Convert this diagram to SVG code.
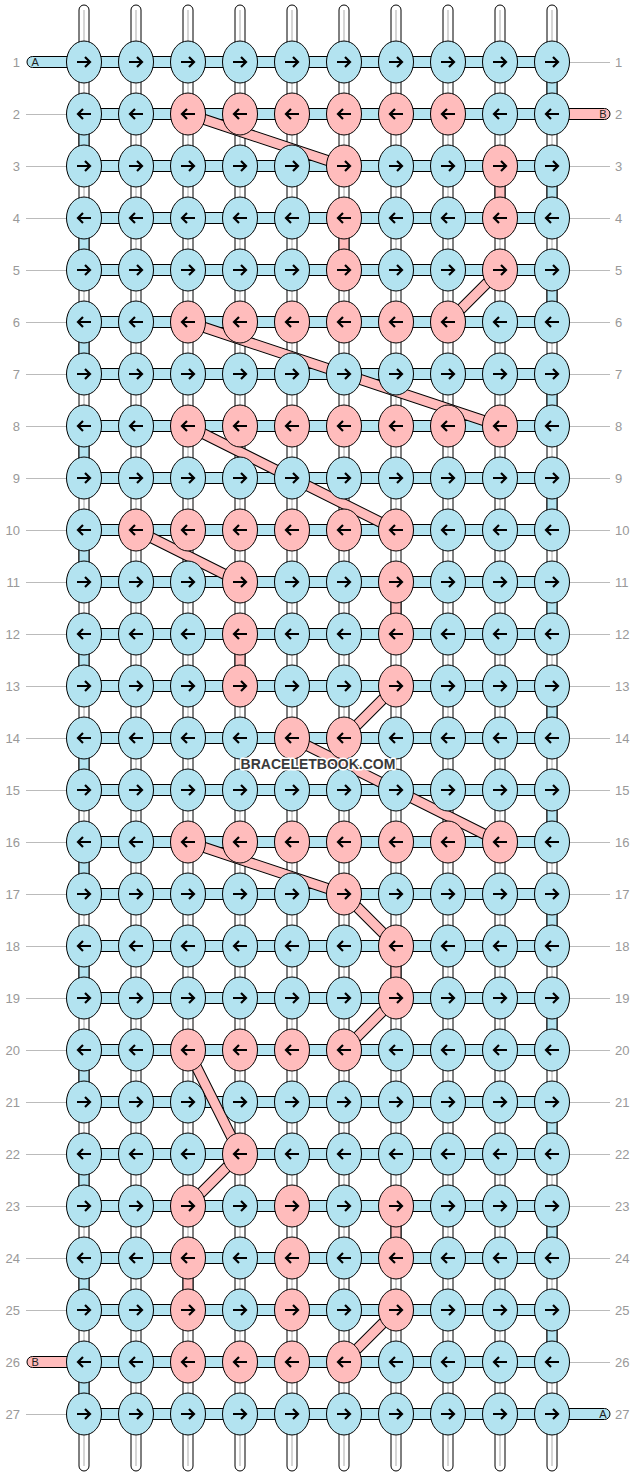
<svg xmlns="http://www.w3.org/2000/svg" xmlns:xlink="http://www.w3.org/1999/xlink" width="636" height="1476" viewBox="0 0 636 1476">
<style>
.kb{fill:#b3e3f0;stroke:#000;stroke-width:1}
.kp{fill:#ffbcbc;stroke:#000;stroke-width:1}
.ar{fill:none;stroke:#000;stroke-width:2.2}
.warp{fill:#fff;stroke:#000;stroke-width:1}
.wl{stroke:#c8c8c8;stroke-width:1.5}
.vb{fill:#b3e3f0;stroke:#000;stroke-width:1}
.vp{fill:#ffbcbc;stroke:#000;stroke-width:1}
.hb{fill:#b3e3f0;stroke:#000;stroke-width:1}
.dO{stroke:#000;stroke-width:11}
.dI{stroke:#ffbcbc;stroke-width:9}
.ll{stroke:#bbb;stroke-width:1}
.lab{font-family:"Liberation Sans",Arial,sans-serif;font-size:13px;fill:#999}
.sl{font-family:"Liberation Sans",Arial,sans-serif;font-size:11px;fill:#222}
.wm{font-family:"Liberation Sans",Arial,sans-serif;font-size:14px;font-weight:bold;fill:#3a3a3a;stroke:#fff;stroke-width:3;paint-order:stroke;stroke-linejoin:round}
</style>
<defs>
<g id="bR"><ellipse class="kb" rx="17.5" ry="21"/><path class="ar" d="M-7,0H6M1,-5L6,0L1,5"/></g>
<g id="bL"><ellipse class="kb" rx="17.5" ry="21"/><path class="ar" d="M7,0H-6M-1,-5L-6,0L-1,5"/></g>
<g id="pR"><ellipse class="kp" rx="17.5" ry="21"/><path class="ar" d="M-7,0H6M1,-5L6,0L1,5"/></g>
<g id="pL"><ellipse class="kp" rx="17.5" ry="21"/><path class="ar" d="M7,0H-6M-1,-5L-6,0L-1,5"/></g>
<g id="warpS"><rect class="warp" x="-5" y="5" width="10" height="1466" rx="5"/><line class="wl" x1="0" y1="10" x2="0" y2="1466"/></g>
</defs>
<g id="labels">
<text class="lab" x="20" y="66.5" text-anchor="end">1</text><text class="lab" x="20" y="118.5" text-anchor="end">2</text><text class="lab" x="20" y="170.5" text-anchor="end">3</text><text class="lab" x="20" y="222.5" text-anchor="end">4</text><text class="lab" x="20" y="274.5" text-anchor="end">5</text><text class="lab" x="20" y="326.5" text-anchor="end">6</text><text class="lab" x="20" y="378.5" text-anchor="end">7</text><text class="lab" x="20" y="430.5" text-anchor="end">8</text><text class="lab" x="20" y="482.5" text-anchor="end">9</text><text class="lab" x="20" y="534.5" text-anchor="end">10</text><text class="lab" x="20" y="586.5" text-anchor="end">11</text><text class="lab" x="20" y="638.5" text-anchor="end">12</text><text class="lab" x="20" y="690.5" text-anchor="end">13</text><text class="lab" x="20" y="742.5" text-anchor="end">14</text><text class="lab" x="20" y="794.5" text-anchor="end">15</text><text class="lab" x="20" y="846.5" text-anchor="end">16</text><text class="lab" x="20" y="898.5" text-anchor="end">17</text><text class="lab" x="20" y="950.5" text-anchor="end">18</text><text class="lab" x="20" y="1002.5" text-anchor="end">19</text><text class="lab" x="20" y="1054.5" text-anchor="end">20</text><text class="lab" x="20" y="1106.5" text-anchor="end">21</text><text class="lab" x="20" y="1158.5" text-anchor="end">22</text><text class="lab" x="20" y="1210.5" text-anchor="end">23</text><text class="lab" x="20" y="1262.5" text-anchor="end">24</text><text class="lab" x="20" y="1314.5" text-anchor="end">25</text><text class="lab" x="20" y="1366.5" text-anchor="end">26</text><text class="lab" x="20" y="1418.5" text-anchor="end">27</text>
<text class="lab" x="615" y="66.5">1</text><text class="lab" x="615" y="118.5">2</text><text class="lab" x="615" y="170.5">3</text><text class="lab" x="615" y="222.5">4</text><text class="lab" x="615" y="274.5">5</text><text class="lab" x="615" y="326.5">6</text><text class="lab" x="615" y="378.5">7</text><text class="lab" x="615" y="430.5">8</text><text class="lab" x="615" y="482.5">9</text><text class="lab" x="615" y="534.5">10</text><text class="lab" x="615" y="586.5">11</text><text class="lab" x="615" y="638.5">12</text><text class="lab" x="615" y="690.5">13</text><text class="lab" x="615" y="742.5">14</text><text class="lab" x="615" y="794.5">15</text><text class="lab" x="615" y="846.5">16</text><text class="lab" x="615" y="898.5">17</text><text class="lab" x="615" y="950.5">18</text><text class="lab" x="615" y="1002.5">19</text><text class="lab" x="615" y="1054.5">20</text><text class="lab" x="615" y="1106.5">21</text><text class="lab" x="615" y="1158.5">22</text><text class="lab" x="615" y="1210.5">23</text><text class="lab" x="615" y="1262.5">24</text><text class="lab" x="615" y="1314.5">25</text><text class="lab" x="615" y="1366.5">26</text><text class="lab" x="615" y="1418.5">27</text>
</g>
<g id="connectors">
<g id="labelLines">
<path class="ll" d="M26,114.5H66M26,166.5H66M26,218.5H66M26,270.5H66M26,322.5H66M26,374.5H66M26,426.5H66M26,478.5H66M26,530.5H66M26,582.5H66M26,634.5H66M26,686.5H66M26,738.5H66M26,790.5H66M26,842.5H66M26,894.5H66M26,946.5H66M26,998.5H66M26,1050.5H66M26,1102.5H66M26,1154.5H66M26,1206.5H66M26,1258.5H66M26,1310.5H66M26,1414.5H66"/>
<path class="ll" d="M570,62.5H610M570,166.5H610M570,218.5H610M570,270.5H610M570,322.5H610M570,374.5H610M570,426.5H610M570,478.5H610M570,530.5H610M570,582.5H610M570,634.5H610M570,686.5H610M570,738.5H610M570,790.5H610M570,842.5H610M570,894.5H610M570,946.5H610M570,998.5H610M570,1050.5H610M570,1102.5H610M570,1154.5H610M570,1206.5H610M570,1258.5H610M570,1310.5H610M570,1362.5H610"/>
</g>
<g id="warps">
<use href="#warpS" x="84"/><use href="#warpS" x="136"/><use href="#warpS" x="188"/><use href="#warpS" x="240"/><use href="#warpS" x="292"/><use href="#warpS" x="344"/><use href="#warpS" x="396"/><use href="#warpS" x="448"/><use href="#warpS" x="500"/><use href="#warpS" x="552"/>
</g>
<g id="turnsA">
<rect class="vb" x="547" y="62" width="10" height="52"/><rect class="vb" x="547" y="166" width="10" height="52"/><rect class="vb" x="547" y="270" width="10" height="52"/><rect class="vb" x="547" y="374" width="10" height="52"/><rect class="vb" x="547" y="478" width="10" height="52"/><rect class="vb" x="547" y="582" width="10" height="52"/><rect class="vb" x="547" y="686" width="10" height="52"/><rect class="vb" x="547" y="790" width="10" height="52"/><rect class="vb" x="547" y="894" width="10" height="52"/><rect class="vb" x="547" y="998" width="10" height="52"/><rect class="vb" x="547" y="1102" width="10" height="52"/><rect class="vb" x="547" y="1206" width="10" height="52"/><rect class="vb" x="547" y="1310" width="10" height="52"/>
<rect class="vb" x="79" y="114" width="10" height="52"/><rect class="vb" x="79" y="218" width="10" height="52"/><rect class="vb" x="79" y="322" width="10" height="52"/><rect class="vb" x="79" y="426" width="10" height="52"/><rect class="vb" x="79" y="530" width="10" height="52"/><rect class="vb" x="79" y="634" width="10" height="52"/><rect class="vb" x="79" y="738" width="10" height="52"/><rect class="vb" x="79" y="842" width="10" height="52"/><rect class="vb" x="79" y="946" width="10" height="52"/><rect class="vb" x="79" y="1050" width="10" height="52"/><rect class="vb" x="79" y="1154" width="10" height="52"/><rect class="vb" x="79" y="1258" width="10" height="52"/><rect class="vb" x="79" y="1362" width="10" height="52"/>
</g>
<g id="verticalB">
<rect class="vp" x="495" y="166" width="10" height="52"/><rect class="vp" x="339" y="218" width="10" height="52"/><rect class="vp" x="391" y="582" width="10" height="52"/><rect class="vp" x="235" y="634" width="10" height="52"/><rect class="vp" x="391" y="946" width="10" height="52"/><rect class="vp" x="391" y="1206" width="10" height="52"/><rect class="vp" x="183" y="1258" width="10" height="52"/>
</g>
<g id="rows">
<rect class="hb" x="84" y="56.5" width="468" height="11"/><rect class="hb" x="84" y="108.5" width="468" height="11"/><rect class="hb" x="84" y="160.5" width="468" height="11"/><rect class="hb" x="84" y="212.5" width="468" height="11"/><rect class="hb" x="84" y="264.5" width="468" height="11"/><rect class="hb" x="84" y="316.5" width="468" height="11"/><rect class="hb" x="84" y="368.5" width="468" height="11"/><rect class="hb" x="84" y="420.5" width="468" height="11"/><rect class="hb" x="84" y="472.5" width="468" height="11"/><rect class="hb" x="84" y="524.5" width="468" height="11"/><rect class="hb" x="84" y="576.5" width="468" height="11"/><rect class="hb" x="84" y="628.5" width="468" height="11"/><rect class="hb" x="84" y="680.5" width="468" height="11"/><rect class="hb" x="84" y="732.5" width="468" height="11"/><rect class="hb" x="84" y="784.5" width="468" height="11"/><rect class="hb" x="84" y="836.5" width="468" height="11"/><rect class="hb" x="84" y="888.5" width="468" height="11"/><rect class="hb" x="84" y="940.5" width="468" height="11"/><rect class="hb" x="84" y="992.5" width="468" height="11"/><rect class="hb" x="84" y="1044.5" width="468" height="11"/><rect class="hb" x="84" y="1096.5" width="468" height="11"/><rect class="hb" x="84" y="1148.5" width="468" height="11"/><rect class="hb" x="84" y="1200.5" width="468" height="11"/><rect class="hb" x="84" y="1252.5" width="468" height="11"/><rect class="hb" x="84" y="1304.5" width="468" height="11"/><rect class="hb" x="84" y="1356.5" width="468" height="11"/><rect class="hb" x="84" y="1408.5" width="468" height="11"/>
</g>
<g id="stubs">
<path class="hb" d="M84,56.5H32.5A5.5,5.5 0 0 0 32.5,67.5H84Z"/><text class="sl" x="31.5" y="66">A</text>
<path class="vp" d="M552,108.5H604.5A5.5,5.5 0 0 1 604.5,119.5H552Z"/><text class="sl" x="606.5" y="118" text-anchor="end">B</text>
<path class="vp" d="M84,1356.5H32.5A5.5,5.5 0 0 0 32.5,1367.5H84Z"/><text class="sl" x="31.5" y="1366">B</text>
<path class="hb" d="M552,1408.5H604.5A5.5,5.5 0 0 1 604.5,1419.5H552Z"/><text class="sl" x="606.5" y="1418" text-anchor="end">A</text>
</g>
<g id="diagonalsB">
<path class="dO" d="M188,114L344,166M500,270L448,322M188,322L500,426M188,426L396,530M136,530L240,582M396,686L344,738M292,738L500,842M188,842L344,894M344,894L396,946M396,998L344,1050M188,1050L240,1154M240,1154L188,1206M396,1310L344,1362"/>
<path class="dI" d="M188,114L344,166M500,270L448,322M188,322L500,426M188,426L396,530M136,530L240,582M396,686L344,738M292,738L500,842M188,842L344,894M344,894L396,946M396,998L344,1050M188,1050L240,1154M240,1154L188,1206M396,1310L344,1362"/>
</g>
</g>
<g id="knots">
<g id="k1_1"><use href="#bR" x="84" y="62"/></g><g id="k1_2"><use href="#bR" x="136" y="62"/></g><g id="k1_3"><use href="#bR" x="188" y="62"/></g><g id="k1_4"><use href="#bR" x="240" y="62"/></g><g id="k1_5"><use href="#bR" x="292" y="62"/></g><g id="k1_6"><use href="#bR" x="344" y="62"/></g><g id="k1_7"><use href="#bR" x="396" y="62"/></g><g id="k1_8"><use href="#bR" x="448" y="62"/></g><g id="k1_9"><use href="#bR" x="500" y="62"/></g><g id="k1_10"><use href="#bR" x="552" y="62"/></g>
<g id="k2_1"><use href="#bL" x="84" y="114"/></g><g id="k2_2"><use href="#bL" x="136" y="114"/></g><g id="k2_3"><use href="#pL" x="188" y="114"/></g><g id="k2_4"><use href="#pL" x="240" y="114"/></g><g id="k2_5"><use href="#pL" x="292" y="114"/></g><g id="k2_6"><use href="#pL" x="344" y="114"/></g><g id="k2_7"><use href="#pL" x="396" y="114"/></g><g id="k2_8"><use href="#pL" x="448" y="114"/></g><g id="k2_9"><use href="#bL" x="500" y="114"/></g><g id="k2_10"><use href="#bL" x="552" y="114"/></g>
<g id="k3_1"><use href="#bR" x="84" y="166"/></g><g id="k3_2"><use href="#bR" x="136" y="166"/></g><g id="k3_3"><use href="#bR" x="188" y="166"/></g><g id="k3_4"><use href="#bR" x="240" y="166"/></g><g id="k3_5"><use href="#bR" x="292" y="166"/></g><g id="k3_6"><use href="#pR" x="344" y="166"/></g><g id="k3_7"><use href="#bR" x="396" y="166"/></g><g id="k3_8"><use href="#bR" x="448" y="166"/></g><g id="k3_9"><use href="#pR" x="500" y="166"/></g><g id="k3_10"><use href="#bR" x="552" y="166"/></g>
<g id="k4_1"><use href="#bL" x="84" y="218"/></g><g id="k4_2"><use href="#bL" x="136" y="218"/></g><g id="k4_3"><use href="#bL" x="188" y="218"/></g><g id="k4_4"><use href="#bL" x="240" y="218"/></g><g id="k4_5"><use href="#bL" x="292" y="218"/></g><g id="k4_6"><use href="#pL" x="344" y="218"/></g><g id="k4_7"><use href="#bL" x="396" y="218"/></g><g id="k4_8"><use href="#bL" x="448" y="218"/></g><g id="k4_9"><use href="#pL" x="500" y="218"/></g><g id="k4_10"><use href="#bL" x="552" y="218"/></g>
<g id="k5_1"><use href="#bR" x="84" y="270"/></g><g id="k5_2"><use href="#bR" x="136" y="270"/></g><g id="k5_3"><use href="#bR" x="188" y="270"/></g><g id="k5_4"><use href="#bR" x="240" y="270"/></g><g id="k5_5"><use href="#bR" x="292" y="270"/></g><g id="k5_6"><use href="#pR" x="344" y="270"/></g><g id="k5_7"><use href="#bR" x="396" y="270"/></g><g id="k5_8"><use href="#bR" x="448" y="270"/></g><g id="k5_9"><use href="#pR" x="500" y="270"/></g><g id="k5_10"><use href="#bR" x="552" y="270"/></g>
<g id="k6_1"><use href="#bL" x="84" y="322"/></g><g id="k6_2"><use href="#bL" x="136" y="322"/></g><g id="k6_3"><use href="#pL" x="188" y="322"/></g><g id="k6_4"><use href="#pL" x="240" y="322"/></g><g id="k6_5"><use href="#pL" x="292" y="322"/></g><g id="k6_6"><use href="#pL" x="344" y="322"/></g><g id="k6_7"><use href="#pL" x="396" y="322"/></g><g id="k6_8"><use href="#pL" x="448" y="322"/></g><g id="k6_9"><use href="#bL" x="500" y="322"/></g><g id="k6_10"><use href="#bL" x="552" y="322"/></g>
<g id="k7_1"><use href="#bR" x="84" y="374"/></g><g id="k7_2"><use href="#bR" x="136" y="374"/></g><g id="k7_3"><use href="#bR" x="188" y="374"/></g><g id="k7_4"><use href="#bR" x="240" y="374"/></g><g id="k7_5"><use href="#bR" x="292" y="374"/></g><g id="k7_6"><use href="#bR" x="344" y="374"/></g><g id="k7_7"><use href="#bR" x="396" y="374"/></g><g id="k7_8"><use href="#bR" x="448" y="374"/></g><g id="k7_9"><use href="#bR" x="500" y="374"/></g><g id="k7_10"><use href="#bR" x="552" y="374"/></g>
<g id="k8_1"><use href="#bL" x="84" y="426"/></g><g id="k8_2"><use href="#bL" x="136" y="426"/></g><g id="k8_3"><use href="#pL" x="188" y="426"/></g><g id="k8_4"><use href="#pL" x="240" y="426"/></g><g id="k8_5"><use href="#pL" x="292" y="426"/></g><g id="k8_6"><use href="#pL" x="344" y="426"/></g><g id="k8_7"><use href="#pL" x="396" y="426"/></g><g id="k8_8"><use href="#pL" x="448" y="426"/></g><g id="k8_9"><use href="#pL" x="500" y="426"/></g><g id="k8_10"><use href="#bL" x="552" y="426"/></g>
<g id="k9_1"><use href="#bR" x="84" y="478"/></g><g id="k9_2"><use href="#bR" x="136" y="478"/></g><g id="k9_3"><use href="#bR" x="188" y="478"/></g><g id="k9_4"><use href="#bR" x="240" y="478"/></g><g id="k9_5"><use href="#bR" x="292" y="478"/></g><g id="k9_6"><use href="#bR" x="344" y="478"/></g><g id="k9_7"><use href="#bR" x="396" y="478"/></g><g id="k9_8"><use href="#bR" x="448" y="478"/></g><g id="k9_9"><use href="#bR" x="500" y="478"/></g><g id="k9_10"><use href="#bR" x="552" y="478"/></g>
<g id="k10_1"><use href="#bL" x="84" y="530"/></g><g id="k10_2"><use href="#pL" x="136" y="530"/></g><g id="k10_3"><use href="#pL" x="188" y="530"/></g><g id="k10_4"><use href="#pL" x="240" y="530"/></g><g id="k10_5"><use href="#pL" x="292" y="530"/></g><g id="k10_6"><use href="#pL" x="344" y="530"/></g><g id="k10_7"><use href="#pL" x="396" y="530"/></g><g id="k10_8"><use href="#bL" x="448" y="530"/></g><g id="k10_9"><use href="#bL" x="500" y="530"/></g><g id="k10_10"><use href="#bL" x="552" y="530"/></g>
<g id="k11_1"><use href="#bR" x="84" y="582"/></g><g id="k11_2"><use href="#bR" x="136" y="582"/></g><g id="k11_3"><use href="#bR" x="188" y="582"/></g><g id="k11_4"><use href="#pR" x="240" y="582"/></g><g id="k11_5"><use href="#bR" x="292" y="582"/></g><g id="k11_6"><use href="#bR" x="344" y="582"/></g><g id="k11_7"><use href="#pR" x="396" y="582"/></g><g id="k11_8"><use href="#bR" x="448" y="582"/></g><g id="k11_9"><use href="#bR" x="500" y="582"/></g><g id="k11_10"><use href="#bR" x="552" y="582"/></g>
<g id="k12_1"><use href="#bL" x="84" y="634"/></g><g id="k12_2"><use href="#bL" x="136" y="634"/></g><g id="k12_3"><use href="#bL" x="188" y="634"/></g><g id="k12_4"><use href="#pL" x="240" y="634"/></g><g id="k12_5"><use href="#bL" x="292" y="634"/></g><g id="k12_6"><use href="#bL" x="344" y="634"/></g><g id="k12_7"><use href="#pL" x="396" y="634"/></g><g id="k12_8"><use href="#bL" x="448" y="634"/></g><g id="k12_9"><use href="#bL" x="500" y="634"/></g><g id="k12_10"><use href="#bL" x="552" y="634"/></g>
<g id="k13_1"><use href="#bR" x="84" y="686"/></g><g id="k13_2"><use href="#bR" x="136" y="686"/></g><g id="k13_3"><use href="#bR" x="188" y="686"/></g><g id="k13_4"><use href="#pR" x="240" y="686"/></g><g id="k13_5"><use href="#bR" x="292" y="686"/></g><g id="k13_6"><use href="#bR" x="344" y="686"/></g><g id="k13_7"><use href="#pR" x="396" y="686"/></g><g id="k13_8"><use href="#bR" x="448" y="686"/></g><g id="k13_9"><use href="#bR" x="500" y="686"/></g><g id="k13_10"><use href="#bR" x="552" y="686"/></g>
<g id="k14_1"><use href="#bL" x="84" y="738"/></g><g id="k14_2"><use href="#bL" x="136" y="738"/></g><g id="k14_3"><use href="#bL" x="188" y="738"/></g><g id="k14_4"><use href="#bL" x="240" y="738"/></g><g id="k14_5"><use href="#pL" x="292" y="738"/></g><g id="k14_6"><use href="#pL" x="344" y="738"/></g><g id="k14_7"><use href="#bL" x="396" y="738"/></g><g id="k14_8"><use href="#bL" x="448" y="738"/></g><g id="k14_9"><use href="#bL" x="500" y="738"/></g><g id="k14_10"><use href="#bL" x="552" y="738"/></g>
<g id="k15_1"><use href="#bR" x="84" y="790"/></g><g id="k15_2"><use href="#bR" x="136" y="790"/></g><g id="k15_3"><use href="#bR" x="188" y="790"/></g><g id="k15_4"><use href="#bR" x="240" y="790"/></g><g id="k15_5"><use href="#bR" x="292" y="790"/></g><g id="k15_6"><use href="#bR" x="344" y="790"/></g><g id="k15_7"><use href="#bR" x="396" y="790"/></g><g id="k15_8"><use href="#bR" x="448" y="790"/></g><g id="k15_9"><use href="#bR" x="500" y="790"/></g><g id="k15_10"><use href="#bR" x="552" y="790"/></g>
<g id="k16_1"><use href="#bL" x="84" y="842"/></g><g id="k16_2"><use href="#bL" x="136" y="842"/></g><g id="k16_3"><use href="#pL" x="188" y="842"/></g><g id="k16_4"><use href="#pL" x="240" y="842"/></g><g id="k16_5"><use href="#pL" x="292" y="842"/></g><g id="k16_6"><use href="#pL" x="344" y="842"/></g><g id="k16_7"><use href="#pL" x="396" y="842"/></g><g id="k16_8"><use href="#pL" x="448" y="842"/></g><g id="k16_9"><use href="#pL" x="500" y="842"/></g><g id="k16_10"><use href="#bL" x="552" y="842"/></g>
<g id="k17_1"><use href="#bR" x="84" y="894"/></g><g id="k17_2"><use href="#bR" x="136" y="894"/></g><g id="k17_3"><use href="#bR" x="188" y="894"/></g><g id="k17_4"><use href="#bR" x="240" y="894"/></g><g id="k17_5"><use href="#bR" x="292" y="894"/></g><g id="k17_6"><use href="#pR" x="344" y="894"/></g><g id="k17_7"><use href="#bR" x="396" y="894"/></g><g id="k17_8"><use href="#bR" x="448" y="894"/></g><g id="k17_9"><use href="#bR" x="500" y="894"/></g><g id="k17_10"><use href="#bR" x="552" y="894"/></g>
<g id="k18_1"><use href="#bL" x="84" y="946"/></g><g id="k18_2"><use href="#bL" x="136" y="946"/></g><g id="k18_3"><use href="#bL" x="188" y="946"/></g><g id="k18_4"><use href="#bL" x="240" y="946"/></g><g id="k18_5"><use href="#bL" x="292" y="946"/></g><g id="k18_6"><use href="#bL" x="344" y="946"/></g><g id="k18_7"><use href="#pL" x="396" y="946"/></g><g id="k18_8"><use href="#bL" x="448" y="946"/></g><g id="k18_9"><use href="#bL" x="500" y="946"/></g><g id="k18_10"><use href="#bL" x="552" y="946"/></g>
<g id="k19_1"><use href="#bR" x="84" y="998"/></g><g id="k19_2"><use href="#bR" x="136" y="998"/></g><g id="k19_3"><use href="#bR" x="188" y="998"/></g><g id="k19_4"><use href="#bR" x="240" y="998"/></g><g id="k19_5"><use href="#bR" x="292" y="998"/></g><g id="k19_6"><use href="#bR" x="344" y="998"/></g><g id="k19_7"><use href="#pR" x="396" y="998"/></g><g id="k19_8"><use href="#bR" x="448" y="998"/></g><g id="k19_9"><use href="#bR" x="500" y="998"/></g><g id="k19_10"><use href="#bR" x="552" y="998"/></g>
<g id="k20_1"><use href="#bL" x="84" y="1050"/></g><g id="k20_2"><use href="#bL" x="136" y="1050"/></g><g id="k20_3"><use href="#pL" x="188" y="1050"/></g><g id="k20_4"><use href="#pL" x="240" y="1050"/></g><g id="k20_5"><use href="#pL" x="292" y="1050"/></g><g id="k20_6"><use href="#pL" x="344" y="1050"/></g><g id="k20_7"><use href="#bL" x="396" y="1050"/></g><g id="k20_8"><use href="#bL" x="448" y="1050"/></g><g id="k20_9"><use href="#bL" x="500" y="1050"/></g><g id="k20_10"><use href="#bL" x="552" y="1050"/></g>
<g id="k21_1"><use href="#bR" x="84" y="1102"/></g><g id="k21_2"><use href="#bR" x="136" y="1102"/></g><g id="k21_3"><use href="#bR" x="188" y="1102"/></g><g id="k21_4"><use href="#bR" x="240" y="1102"/></g><g id="k21_5"><use href="#bR" x="292" y="1102"/></g><g id="k21_6"><use href="#bR" x="344" y="1102"/></g><g id="k21_7"><use href="#bR" x="396" y="1102"/></g><g id="k21_8"><use href="#bR" x="448" y="1102"/></g><g id="k21_9"><use href="#bR" x="500" y="1102"/></g><g id="k21_10"><use href="#bR" x="552" y="1102"/></g>
<g id="k22_1"><use href="#bL" x="84" y="1154"/></g><g id="k22_2"><use href="#bL" x="136" y="1154"/></g><g id="k22_3"><use href="#bL" x="188" y="1154"/></g><g id="k22_4"><use href="#pL" x="240" y="1154"/></g><g id="k22_5"><use href="#bL" x="292" y="1154"/></g><g id="k22_6"><use href="#bL" x="344" y="1154"/></g><g id="k22_7"><use href="#bL" x="396" y="1154"/></g><g id="k22_8"><use href="#bL" x="448" y="1154"/></g><g id="k22_9"><use href="#bL" x="500" y="1154"/></g><g id="k22_10"><use href="#bL" x="552" y="1154"/></g>
<g id="k23_1"><use href="#bR" x="84" y="1206"/></g><g id="k23_2"><use href="#bR" x="136" y="1206"/></g><g id="k23_3"><use href="#pR" x="188" y="1206"/></g><g id="k23_4"><use href="#bR" x="240" y="1206"/></g><g id="k23_5"><use href="#pR" x="292" y="1206"/></g><g id="k23_6"><use href="#bR" x="344" y="1206"/></g><g id="k23_7"><use href="#pR" x="396" y="1206"/></g><g id="k23_8"><use href="#bR" x="448" y="1206"/></g><g id="k23_9"><use href="#bR" x="500" y="1206"/></g><g id="k23_10"><use href="#bR" x="552" y="1206"/></g>
<g id="k24_1"><use href="#bL" x="84" y="1258"/></g><g id="k24_2"><use href="#bL" x="136" y="1258"/></g><g id="k24_3"><use href="#pL" x="188" y="1258"/></g><g id="k24_4"><use href="#bL" x="240" y="1258"/></g><g id="k24_5"><use href="#pL" x="292" y="1258"/></g><g id="k24_6"><use href="#bL" x="344" y="1258"/></g><g id="k24_7"><use href="#pL" x="396" y="1258"/></g><g id="k24_8"><use href="#bL" x="448" y="1258"/></g><g id="k24_9"><use href="#bL" x="500" y="1258"/></g><g id="k24_10"><use href="#bL" x="552" y="1258"/></g>
<g id="k25_1"><use href="#bR" x="84" y="1310"/></g><g id="k25_2"><use href="#bR" x="136" y="1310"/></g><g id="k25_3"><use href="#pR" x="188" y="1310"/></g><g id="k25_4"><use href="#bR" x="240" y="1310"/></g><g id="k25_5"><use href="#pR" x="292" y="1310"/></g><g id="k25_6"><use href="#bR" x="344" y="1310"/></g><g id="k25_7"><use href="#pR" x="396" y="1310"/></g><g id="k25_8"><use href="#bR" x="448" y="1310"/></g><g id="k25_9"><use href="#bR" x="500" y="1310"/></g><g id="k25_10"><use href="#bR" x="552" y="1310"/></g>
<g id="k26_1"><use href="#bL" x="84" y="1362"/></g><g id="k26_2"><use href="#bL" x="136" y="1362"/></g><g id="k26_3"><use href="#pL" x="188" y="1362"/></g><g id="k26_4"><use href="#pL" x="240" y="1362"/></g><g id="k26_5"><use href="#pL" x="292" y="1362"/></g><g id="k26_6"><use href="#pL" x="344" y="1362"/></g><g id="k26_7"><use href="#bL" x="396" y="1362"/></g><g id="k26_8"><use href="#bL" x="448" y="1362"/></g><g id="k26_9"><use href="#bL" x="500" y="1362"/></g><g id="k26_10"><use href="#bL" x="552" y="1362"/></g>
<g id="k27_1"><use href="#bR" x="84" y="1414"/></g><g id="k27_2"><use href="#bR" x="136" y="1414"/></g><g id="k27_3"><use href="#bR" x="188" y="1414"/></g><g id="k27_4"><use href="#bR" x="240" y="1414"/></g><g id="k27_5"><use href="#bR" x="292" y="1414"/></g><g id="k27_6"><use href="#bR" x="344" y="1414"/></g><g id="k27_7"><use href="#bR" x="396" y="1414"/></g><g id="k27_8"><use href="#bR" x="448" y="1414"/></g><g id="k27_9"><use href="#bR" x="500" y="1414"/></g><g id="k27_10"><use href="#bR" x="552" y="1414"/></g>
</g>
<text class="wm" x="318" y="769" text-anchor="middle">BRACELETBOOK.COM</text>
</svg>
